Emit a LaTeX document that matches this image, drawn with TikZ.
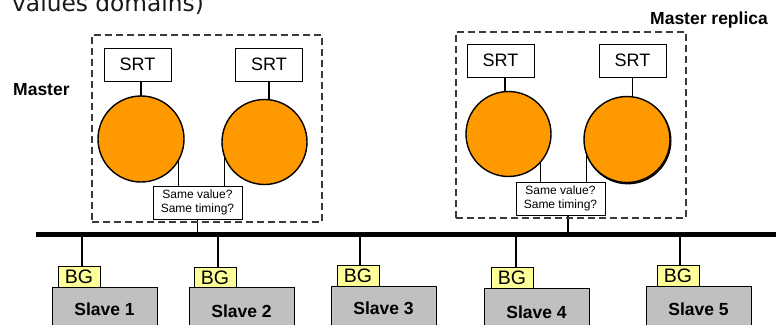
\documentclass[tikz,border=0pt]{standalone}
\usepackage{fontspec}
\setmainfont{Liberation Sans}
\newfontfamily\titlefont{DejaVu Sans}
\usetikzlibrary{backgrounds,calc}
\definecolor{orangec}{HTML}{FF9900}
\definecolor{bgyellow}{HTML}{FFFF99}
\definecolor{slavegray}{HTML}{C0C0C0}
\definecolor{dashgray}{HTML}{3A3A3A}
\begin{document}
\begin{tikzpicture}[x=1pt,y=-1pt,
  srtbox/.style={draw, line width=1pt, fill=white, minimum width=67pt, minimum height=33pt, inner sep=0pt, font=\fontsize{18}{18}\selectfont},
  unit/.style={draw, line width=1.4pt, fill=orangec, circle, inner sep=0pt},
  samebox/.style={draw, line width=1pt, fill=white, minimum width=89pt, minimum height=33pt, inner sep=0pt, align=center, font=\fontsize{12}{13.5}\selectfont},
  groupbox/.style={draw=dashgray, line width=1.3pt, dash pattern=on 7pt off 4pt, inner sep=0pt},
  bgbox/.style={draw, line width=0.9pt, fill=bgyellow, minimum width=42pt, minimum height=21pt, inner sep=0pt, font=\fontsize{19.5}{20}\selectfont},
  slavebox/.style={draw, line width=1pt, fill=slavegray, minimum width=105pt, minimum height=44pt, inner sep=0pt, font=\bfseries\fontsize{17.5}{18}\selectfont},
  biglabel/.style={font=\bfseries\fontsize{17.5}{18}\selectfont, inner sep=0pt},
  wire/.style={line width=1.6pt},
  busline/.style={line width=5pt}
]
\clip (0,0) rectangle (776,324);
\useasboundingbox (0,0) rectangle (776,324);

% title text, cut off at the top edge as in the reference
\node[anchor=base west, inner sep=0pt, text=black!90, font=\titlefont\fontsize{23.3}{24}\selectfont] (title) at (12,12) {values domains)};

% labels
\node[biglabel, anchor=west] (mlabel) at (13,90) {Master};
\node[biglabel, anchor=west] (rlabel) at (650,20) {Master replica};

% dashed group frames
\node[groupbox, minimum width=230pt, minimum height=187pt] (mbox) at (207,128.5) {};
\node[groupbox, minimum width=230pt, minimum height=186pt] (rbox) at (571,125) {};

% SRT boxes
\node[srtbox] (s1) at (137.5,64.5) {SRT};
\node[srtbox] (s2) at (269,64.5) {SRT};
\node[srtbox] (s3) at (500.5,60.5) {SRT};
\node[srtbox] (s4) at (632.5,60.5) {SRT};

% circles
\node[unit, minimum size=86pt] (c1) at (141,139) {};
\node[unit, minimum size=85pt] (c2) at (264.5,142) {};
\node[unit, minimum size=85pt] (c3) at (508.5,134) {};
\node[unit, minimum size=86pt] (c4s) at (627.8,140.7) {};
\node[unit, minimum size=86pt] (c4) at (627,139.5) {};

% comparison boxes
\node[samebox] (sA) at (197.5,202.5) {Same value?\\Same timing?};
\node[samebox] (sB) at (560.5,198.5) {Same value?\\Same timing?};

% bus ends
\coordinate (busL) at (36,234);
\coordinate (busR) at (776,234);

% BG boxes and slaves
\node[bgbox] (g1) at (79,276.5) {BG};
\node[bgbox] (g2) at (215,277.5) {BG};
\node[bgbox] (g3) at (358,275.5) {BG};
\node[bgbox] (g4) at (512,278) {BG};
\node[bgbox] (g5) at (678,276) {BG};
\node[slavebox] (v1) at (104.5,309) {Slave 1};
\node[slavebox] (v2) at (241.5,309) {};
\node[biglabel] (v2t) at (241.5,311) {Slave 2};
\node[slavebox] (v3) at (383.5,308) {Slave 3};
\node[slavebox] (v4) at (536.5,310) {};
\node[biglabel] (v4t) at (536.5,312) {Slave 4};
\node[slavebox] (v5) at (698.5,308) {};
\node[biglabel] (v5t) at (698.5,309) {Slave 5};

\begin{scope}[on background layer]
  % SRT to circles
  \draw[wire] (s1.south -| c1.center) -- (c1.center);
  \draw[wire] (s2.south) -- (s2.south |- c2.center);
  \draw[wire] ($(s3.south)+(4.5,0)$) -- ($(s3.south |- c3.center)+(4.5,0)$);
  \draw[wire] (s4.south) -- (s4.south |- c4.center);
  % circles to comparison boxes
  \draw[wire] ($(sA.north west)+(26,0)$) -- ($(sA.north west |- c1.center)+(26,0)$);
  \draw[wire] ($(sA.north west)+(72,0)$) -- ($(sA.north west |- c2.center)+(72,0)$);
  \draw[wire] ($(sB.north west)+(25,0)$) -- ($(sB.north west |- c3.center)+(25,0)$);
  \draw[wire] ($(sB.north west)+(71,0)$) -- ($(sB.north west |- c4.center)+(71,0)$);
  % comparison boxes to bus
  \draw[wire] (sA.south) -- (sA.south |- busL);
  \draw[wire] ($(sB.south)+(7.5,0)$) -- ($(sB.south |- busL)+(7.5,0)$);
  % bus drops
  \draw[wire] ($(g1.north)+(3,0)$) -- ($(g1.north |- busL)+(3,0)$);
  \draw[wire] ($(g2.north)+(3,0)$) -- ($(g2.north |- busL)+(3,0)$);
  \draw[wire] ($(g3.north)+(2,0)$) -- ($(g3.north |- busL)+(2,0)$);
  \draw[wire] ($(g4.north)+(4,0)$) -- ($(g4.north |- busL)+(4,0)$);
  \draw[wire] ($(g5.north)+(2,0)$) -- ($(g5.north |- busL)+(2,0)$);
\end{scope}

% bus
\draw[busline] (busL) -- (busR);
\end{tikzpicture}
\end{document}
